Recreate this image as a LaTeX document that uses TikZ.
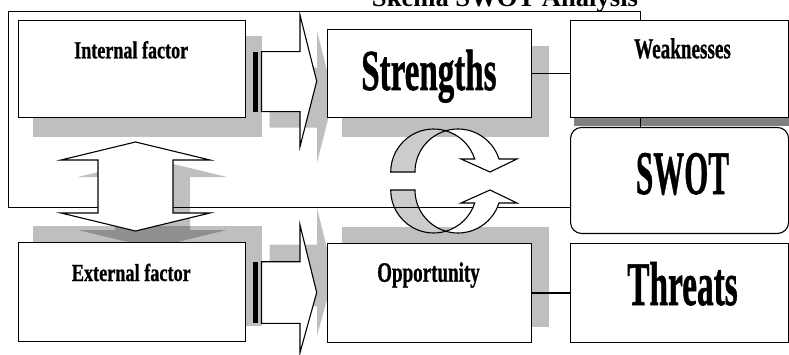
\documentclass[tikz,border=0pt]{standalone}
\usepackage{fontspec}
\setmainfont{Liberation Serif}
\newfontfamily\heavyfont{Liberation Serif}[BoldFeatures={FakeBold=1}]
\usepackage{graphicx}
\definecolor{shadowdark}{RGB}{128,128,128}
\definecolor{crescent}{RGB}{204,204,204}
\newcommand\boxtxt[3]{\fontsize{#1}{#1}\selectfont\scalebox{#2}[1]{#3}}
\begin{document}
\begin{tikzpicture}[x=1pt,y=1pt,
  box/.style={draw=black, fill=white, line width=1.1pt, inner sep=0pt, anchor=south west},
  lbl/.style={anchor=base, inner sep=0pt, font=\heavyfont\bfseries},
  shade/.style={fill=black, opacity=0.25},
  outl/.style={draw=black, fill=white, line width=1.1pt, line join=miter},
  grayband/.style={draw=black, fill=crescent, line width=1.1pt},
]
\useasboundingbox (0,0) rectangle (789,354);
\clip (0,0) rectangle (789,354);
\fill[white] (0,0) rectangle (789,354);

% title
\node[anchor=base, inner sep=0pt, font=\bfseries\fontsize{26.6pt}{26.6pt}\selectfont] (title) at (505,347) {Skema SWOT Analysis};

% box shadows
\fill[shade] (33,217) rectangle (262,318);
\fill[shade] (342,217) rectangle (549,308);
\fill[shade] (33,28) rectangle (262,128);
\fill[shade] (342,27) rectangle (549,127);
\fill[shadowdark] (574,228) rectangle (790,330);

% arrow shadows
\fill[shade, shift={(17,-16)}] (252.7,242.3) -- (300,242.3) -- (300,207.3) -- (316.7,272.8) -- (300,339) -- (300,302.3) -- (252.7,302.3) -- cycle;
\fill[shade, shift={(17,17)}] (252.7,30.7) -- (300,30.7) -- (300,1.3) -- (316.7,61.5) -- (300,129) -- (300,92.3) -- (252.7,92.3) -- cycle;
\fill[shade, shift={(17,-17)}] (135.5,212) -- (210,194) -- (173,194) -- (173,141) -- (210,141) -- (135.5,123) -- (61,141) -- (98,141) -- (98,194) -- (61,194) -- cycle;

% back (gray) parts of the circular arrows
\filldraw[grayband] (390.7,182) arc[start angle=180, end angle=73.6, radius=43] arc[start angle=106.4, end angle=180, radius=43] -- cycle;
\filldraw[grayband] (390.7,164) arc[start angle=180, end angle=286.4, radius=43] arc[start angle=253.6, end angle=180, radius=43] -- cycle;

% frame
\node[draw=black, line width=1.1pt, inner sep=0pt, anchor=south west, minimum width=632pt, minimum height=196pt] (frame) at (8,146) {};

% front (white) parts of the circular arrows
\filldraw[outl] (445.84,223.25) arc[start angle=106.4, end angle=17.6, radius=43] -- (517,195) -- (490,182) -- (461,195) -- (474.7,195) arc[start angle=17.6, end angle=73.6, radius=43] -- cycle;
\filldraw[outl] (445.84,122.75) arc[start angle=253.6, end angle=342.4, radius=43] -- (517,151) -- (490,164) -- (461,151) -- (474.7,151) arc[start angle=342.4, end angle=286.4, radius=43] -- cycle;

% double vertical arrow
\filldraw[outl] (135.5,212) -- (210,194) -- (173,194) -- (173,141) -- (210,141) -- (135.5,123) -- (61,141) -- (98,141) -- (98,194) -- (61,194) -- cycle;

% right block arrows
\filldraw[outl] (261.5,242.3) -- (300,242.3) -- (300,207.3) -- (316.7,272.8) -- (300,339) -- (300,302.3) -- (261.5,302.3) -- cycle;
\fill[black] (252.7,242.3) rectangle (258.3,302.3);
\filldraw[outl] (261.5,30.7) -- (300,30.7) -- (300,1.3) -- (316.7,61.5) -- (300,129) -- (300,92.3) -- (261.5,92.3) -- cycle;
\fill[black] (252.7,30.7) rectangle (258.3,92.3);

% boxes
\node[box, minimum width=227pt, minimum height=97pt] (int) at (18,236) {};
\node[box, minimum width=204pt, minimum height=88pt] (str) at (327,236) {};
\node[box, minimum width=218pt, minimum height=97pt] (weak) at (570,236) {};
\node[box, rounded corners=11pt, minimum width=218pt, minimum height=106pt] (swot) at (570,120) {};
\node[box, minimum width=227pt, minimum height=99pt] (ext) at (18,12) {};
\node[box, minimum width=204pt, minimum height=99pt] (opp) at (327,11) {};
\node[box, minimum width=218pt, minimum height=99pt] (thr) at (570,11) {};

% connectors
\draw[line width=1.1pt] (str.east) -- (str.east -| weak.west);
\draw[line width=1.1pt] (opp.east) -- (opp.east -| thr.west);

% labels
\node[lbl] (int-t) at (131.2,295.7) {\boxtxt{24.5pt}{0.738}{Internal factor}};
\node[lbl] (str-t) at (428.9,264) {\boxtxt{58pt}{0.57}{Strengths}};
\node[lbl] (weak-t) at (682.5,295.7) {\boxtxt{29pt}{0.66}{Weaknesses}};
\node[lbl] (swot-t) at (682.5,160) {\boxtxt{62pt}{0.5}{SWOT}};
\node[lbl] (ext-t) at (131.3,73) {\boxtxt{24.5pt}{0.744}{External factor}};
\node[lbl] (opp-t) at (428.5,72.3) {\boxtxt{28pt}{0.68}{Opportunity}};
\node[lbl] (thr-t) at (682.5,49) {\boxtxt{62pt}{0.537}{Threats}};
\end{tikzpicture}
\end{document}
